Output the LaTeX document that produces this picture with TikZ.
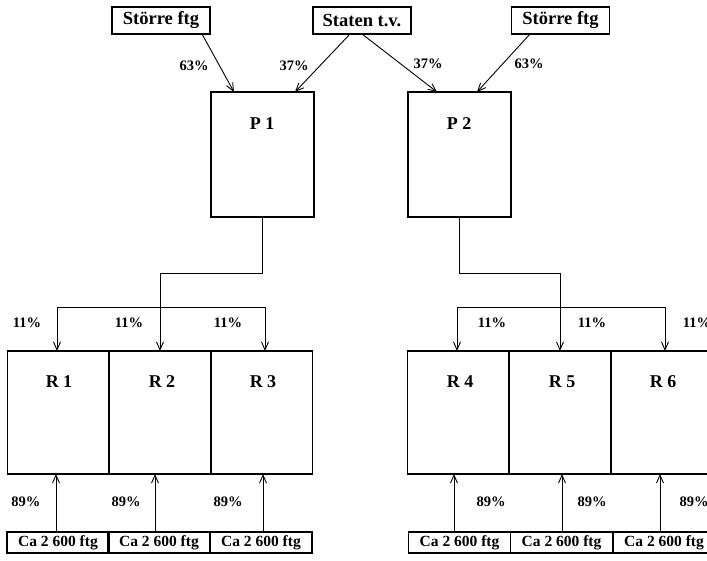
\documentclass[tikz,border=0pt]{standalone}
\usepackage{fontspec}
\setmainfont{Liberation Serif}
\usetikzlibrary{arrows.meta,calc}
\begin{document}
\begin{tikzpicture}[x=1pt,y=-1pt,
  box/.style={draw=black,line width=1.8pt,rectangle,inner sep=0pt,outer sep=0pt},
  topbox/.style={box,minimum width=98pt,minimum height=27pt,font=\bfseries\fontsize{18.5}{20}\selectfont},
  pbox/.style={box,minimum width=103pt,minimum height=125pt},
  rbox/.style={box,minimum width=102pt,minimum height=123pt},
  cbox/.style={box,line width=1.5pt,minimum width=102pt,minimum height=21pt,font=\bfseries\fontsize{15.5}{17}\selectfont},
  big/.style={font=\bfseries\fontsize{18}{20}\selectfont,inner sep=0pt},
  pct/.style={font=\bfseries\fontsize{14.5}{16}\selectfont,inner sep=0pt},
  con/.style={line width=0.9pt},
  arr/.style={con,-{Straight Barb[length=8pt,width=7pt,line width=0.9pt]}}]
\clip (0,0) rectangle (707,560);
\fill[white] (0,0) rectangle (707,560);
% top sources
\node[topbox] (s1) at (161,20.5) {Större ftg};
\node[topbox] (st) at (362,20.5) {Staten t.v.};
\node[topbox] (s2) at (560.5,20.5) {Större ftg};
% P boxes
\node[pbox] (p1) at (262.5,154.5) {};
\node[pbox] (p2) at (459.5,154.5) {};
\node[big] (p1l) at (262,124) {P 1};
\node[big] (p2l) at (459,124) {P 2};
% arrows into P
\draw[arr] ($(s1.south)+(41,0)$) -- ($(p1.north)+(-28.5,0)$);
\draw[arr] ($(st.south)+(-12,0)$) -- ($(p1.north)+(32.5,0)$);
\draw[arr] ($(st.south)+(0,0)$) -- ($(p2.north)+(-22.5,0)$);
\draw[arr] ($(s2.south)+(-30.5,0)$) -- ($(p2.north)+(17.5,0)$);
\node[pct] (l1) at (194,66) {63\%};
\node[pct] (l2) at (294,66) {37\%};
\node[pct] (l3) at (428,64) {37\%};
\node[pct] (l4) at (529,64) {63\%};
% R boxes
\node[rbox] (r1) at (58.5,412.5) {};
\node[rbox] (r2) at (160,412.5) {};
\node[rbox] (r3) at (261.5,412.5) {};
\node[rbox] (r4) at (458.5,412.5) {};
\node[rbox] (r5) at (560,412.5) {};
\node[rbox] (r6) at (662,412.5) {};
\node[big] (r1l) at (59,382) {R 1};
\node[big] (r2l) at (162,382) {R 2};
\node[big] (r3l) at (263,382) {R 3};
\node[big] (r4l) at (460,382) {R 4};
\node[big] (r5l) at (562,382) {R 5};
\node[big] (r6l) at (663,382) {R 6};
% P -> R connectors
\draw[arr] (p1.south) -- ++(0,56) -| (r2.north);
\draw[con] ($(r1.north)+(-1.5,-44)$) -- ($(r3.north)+(3.5,-44)$);
\draw[arr] ($(r1.north)+(-1.5,-44)$) -- ($(r1.north)+(-1.5,0)$);
\draw[arr] ($(r3.north)+(3.5,-44)$) -- ($(r3.north)+(3.5,0)$);
\draw[arr] (p2.south) -- ++(0,56) -| (r5.north);
\draw[con] ($(r4.north)+(-1.5,-44)$) -- ($(r6.north)+(3,-44)$);
\draw[arr] ($(r4.north)+(-1.5,-44)$) -- ($(r4.north)+(-1.5,0)$);
\draw[arr] ($(r6.north)+(3,-44)$) -- ($(r6.north)+(3,0)$);
\node[pct] (e1) at (27,323) {11\%};
\node[pct] (e2) at (129,323) {11\%};
\node[pct] (e3) at (228,323) {11\%};
\node[pct] (e4) at (492,323) {11\%};
\node[pct] (e5) at (592,323) {11\%};
\node[pct] (e6) at (697,323) {11\%};
% bottom boxes
\node[cbox] (c1) at (58,542.5) {Ca 2 600 ftg};
\node[cbox] (c2) at (159,542.5) {Ca 2 600 ftg};
\node[cbox] (c3) at (261,542.5) {Ca 2 600 ftg};
\node[cbox] (c4) at (459.5,542.5) {Ca 2 600 ftg};
\node[cbox] (c5) at (561.5,542.5) {Ca 2 600 ftg};
\node[cbox] (c6) at (664,542.5) {Ca 2 600 ftg};
\draw[arr] ($(c1.north)+(-2,0)$) -- ($(r1.south)+(-2.5,0)$);
\draw[arr] ($(c2.north)+(-4,0)$) -- ($(r2.south)+(-5,0)$);
\draw[arr] ($(c3.north)+(2,0)$) -- ($(r3.south)+(1.5,0)$);
\draw[arr] ($(c4.north)+(-5.5,0)$) -- ($(r4.south)+(-4.5,0)$);
\draw[arr] ($(c5.north)+(0.5,0)$) -- ($(r5.south)+(2,0)$);
\draw[arr] ($(c6.north)+(-4,0)$) -- ($(r6.south)+(-2,0)$);
\node[pct] (n1) at (26,502) {89\%};
\node[pct] (n2) at (126,502) {89\%};
\node[pct] (n3) at (228,502) {89\%};
\node[pct] (n4) at (491,502) {89\%};
\node[pct] (n5) at (592,502) {89\%};
\node[pct] (n6) at (694,502) {89\%};
\end{tikzpicture}
\end{document}
